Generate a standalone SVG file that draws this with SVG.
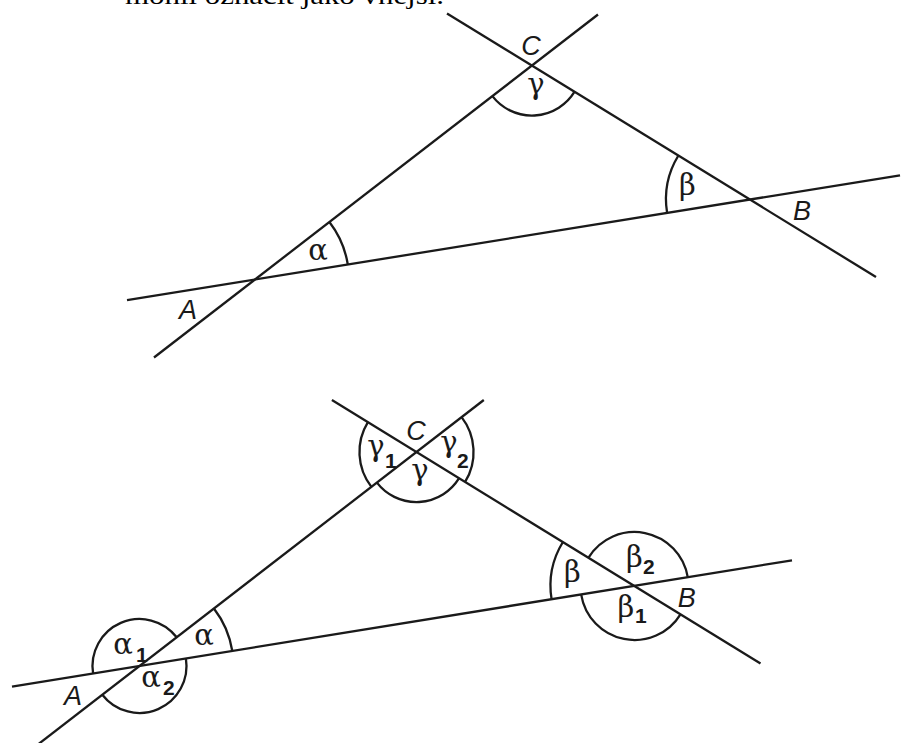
<svg xmlns="http://www.w3.org/2000/svg" width="901" height="743" viewBox="0 0 901 743">
<style>
.ln{stroke:#1a1a1a;stroke-width:2.3;fill:none;stroke-linecap:butt}
.arc{stroke:#1a1a1a;stroke-width:2.3;fill:none}
.pt{font-family:"Liberation Sans",Arial,sans-serif;font-style:italic;font-size:27px;fill:#1a1a1a;text-anchor:middle}
.gr{font-family:"DejaVu Serif","Liberation Serif",serif;font-size:29px;fill:#1a1a1a;text-anchor:middle}
.sub{font-family:"Liberation Sans",Arial,sans-serif;font-weight:bold;font-size:21px;fill:#1a1a1a}
.cap{font-family:"Liberation Serif","Times New Roman",serif;font-size:25px;fill:#000}
</style>
<rect width="901" height="743" fill="#fff"/>
<text class="cap" x="125" y="4" textLength="319" lengthAdjust="spacingAndGlyphs">mohli označit jako vnější.</text>

<g id="connectors">
  <line class="ln" x1="154" y1="357.5" x2="598" y2="14.5"/>
  <line class="ln" x1="447" y1="13.5" x2="876" y2="277"/>
  <line class="ln" x1="127" y1="300.2" x2="900" y2="175.3"/>
  <line class="ln" x1="30.8" y1="750" x2="483.8" y2="400"/>
  <line class="ln" x1="331.9" y1="400" x2="760.5" y2="663.6"/>
  <line class="ln" x1="12" y1="686.6" x2="792" y2="560.3"/>
</g>

<g id="top-A">
  <path class="arc" d="M329.4 222 A94 94 0 0 1 347.8 264.5"/>
  <text class="gr" x="318" y="260">α</text>
  <text class="pt" x="188" y="319">A</text>
</g>
<g id="top-C">
  <path class="arc" d="M492.4 96.1 A50 50 0 0 0 574.6 91.7"/>
  <text class="gr" x="536" y="94">γ</text>
  <text class="pt" x="531" y="55">C</text>
</g>
<g id="top-B">
  <path class="arc" d="M678.4 155.5 A84 84 0 0 0 667.1 212.9"/>
  <text class="gr" x="687.5" y="195">β</text>
  <text class="pt" x="802" y="220">B</text>
</g>

<g id="bottom-A">
  <path class="arc" d="M213.9 608.5 A94 94 0 0 1 232.3 651"/>
  <path class="arc" d="M176.7 637.3 A47 47 0 0 0 93.1 673.5"/>
  <path class="arc" d="M185.9 658.5 A47 47 0 0 1 102.3 694.7"/>
  <text class="gr" x="204" y="645">α</text>
  <text class="gr" x="123" y="654">α</text><text class="sub" x="136" y="662">1</text>
  <text class="gr" x="151" y="687">α</text><text class="sub" x="163" y="695">2</text>
  <text class="pt" x="73" y="705">A</text>
</g>
<g id="bottom-C">
  <path class="arc" d="M376.9 482.6 A50 50 0 0 0 459.1 478.2"/>
  <path class="arc" d="M367.9 422.1 A57 57 0 0 0 371.4 486.9"/>
  <path class="arc" d="M461.6 417.1 A57 57 0 0 1 465.1 481.9"/>
  <text class="pt" x="416" y="440">C</text>
  <text class="gr" x="376" y="456">γ</text><text class="sub" x="385" y="468">1</text>
  <text class="gr" x="449" y="452">γ</text><text class="sub" x="457" y="468">2</text>
  <text class="gr" x="420" y="480">γ</text>
</g>
<g id="bottom-B">
  <path class="arc" d="M562.9 542 A84 84 0 0 0 551.6 599.4"/>
  <path class="arc" d="M588.5 557.7 A54 54 0 0 1 687.8 577.4"/>
  <path class="arc" d="M581.2 594.6 A54 54 0 0 0 680.5 614.3"/>
  <text class="gr" x="572.5" y="582">β</text>
  <text class="gr" x="634.5" y="567">β</text><text class="sub" x="643" y="574">2</text>
  <text class="gr" x="626" y="617">β</text><text class="sub" x="635" y="623">1</text>
  <text class="pt" x="686.7" y="607">B</text>
</g>
</svg>
